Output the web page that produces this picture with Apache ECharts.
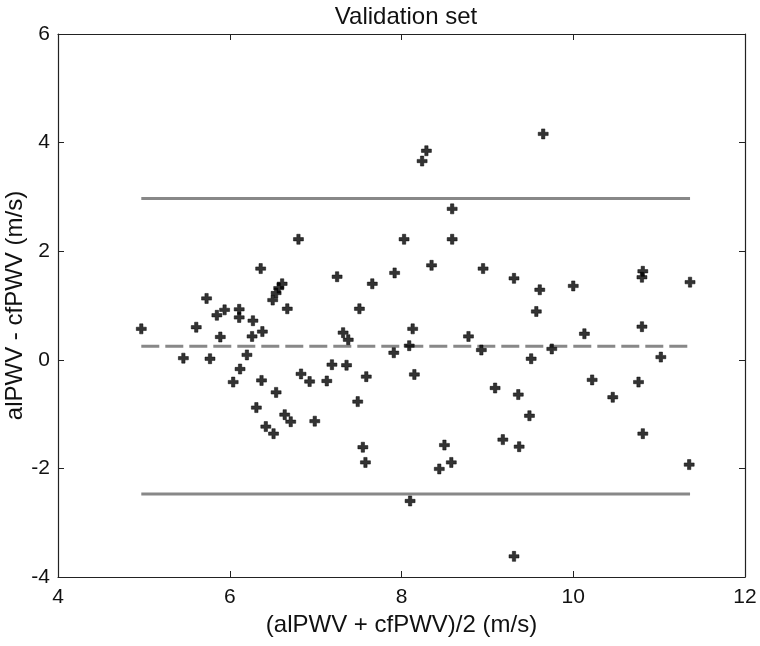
<!DOCTYPE html>
<html>
<head>
<meta charset="utf-8">
<script src="https://cdn.jsdelivr.net/npm/echarts@6/dist/echarts.min.js"></script>
<style>
  html, body { margin: 0; padding: 0; background: #fff; }
  #chart { width: 760px; height: 646px; }
</style>
</head>
<body>
<div id="chart"></div>
<script>
// mean of the two methods (m/s)
var meanPWV = [
  4.97, 5.46, 5.61, 5.73, 5.77, 5.85, 5.89, 5.94, 6.04, 6.11,
  6.11, 6.12, 6.20, 6.26, 6.27, 6.31, 6.36, 6.37, 6.38, 6.42,
  6.50, 6.51, 6.54, 6.54, 6.57, 6.61, 6.64, 6.67, 6.71, 6.80,
  6.83, 6.93, 6.99, 7.13, 7.19, 7.25, 7.32, 7.36, 7.38, 7.49,
  7.51, 7.55, 7.58, 7.59, 7.66, 7.91, 7.92, 8.03, 8.09, 8.10,
  8.13, 8.15, 8.24, 8.29, 8.35, 8.44, 8.50, 8.58, 8.59, 8.59,
  8.78, 8.93, 8.95, 9.09, 9.18, 9.31, 9.31, 9.36, 9.37, 9.49,
  9.51, 9.57, 9.61, 9.65, 9.75, 10.00, 10.13, 10.22, 10.46, 10.76,
  10.80, 10.80, 10.81, 10.81, 11.02, 11.35, 11.36
];
// difference alPWV - cfPWV (m/s)
var diffPWV = [
  0.57, 0.03, 0.60, 1.13, 0.02, 0.82, 0.42, 0.92, -0.41, 0.93,
  0.78, -0.17, 0.09, 0.43, 0.72, -0.88, 1.68, -0.38, 0.52, -1.23,
  1.10, -1.36, 1.23, -0.60, 1.32, 1.40, -1.01, 0.94, -1.14, 2.22,
  -0.26, -0.40, -1.13, -0.39, -0.09, 1.53, 0.50, -0.10, 0.37, -0.77,
  0.94, -1.61, -1.89, -0.31, 1.40, 0.13, 1.60, 2.22, 0.26, -2.60,
  0.57, -0.27, 3.66, 3.85, 1.74, -2.01, -1.57, -1.89, 2.78, 2.22,
  0.43, 0.18, 1.68, -0.52, -1.47, 1.50, -3.62, -0.64, -1.60, -1.03,
  0.02, 0.89, 1.29, 4.16, 0.20, 1.36, 0.48, -0.37, -0.69, -0.41,
  0.61, 1.52, 1.63, -1.36, 0.05, -1.93, 1.43
];
var lineSpan = [4.97, 11.36];
var meanDiff = 0.25;
var upperLimit = 2.97;
var lowerLimit = -2.47;
var xTicks = [4, 6, 8, 10, 12];
var yTicks = [-4, -2, 0, 2, 4, 6];

var points = meanPWV.map(function (x, i) { return [x, diffPWV[i]]; });
function hline(y) { return lineSpan.map(function (x) { return [x, y]; }); }

var font = 'Liberation Sans, Arial, sans-serif';
var axisCol = '#222';

function xAxisCfg(pos, showLabel) {
  return {
    type: 'value', position: pos, min: xTicks[0], max: xTicks[xTicks.length - 1], interval: 2,
    axisLine: { show: true, onZero: false, lineStyle: { color: axisCol, width: 1.2 } },
    axisTick: { show: true, inside: true, length: 6, lineStyle: { color: axisCol } },
    axisLabel: { show: showLabel, color: '#111', fontSize: 21, fontFamily: font, margin: 10 },
    splitLine: { show: false },
    name: showLabel ? '(alPWV + cfPWV)/2 (m/s)' : '',
    nameLocation: 'middle', nameGap: 36, nameMoveOverlap: false,
    nameTextStyle: { color: '#111', fontSize: 24, fontFamily: font }
  };
}
function yAxisCfg(pos, showLabel) {
  return {
    type: 'value', position: pos, min: yTicks[0], max: yTicks[yTicks.length - 1], interval: 2,
    axisLine: { show: true, onZero: false, lineStyle: { color: axisCol, width: 1.2 } },
    axisTick: { show: true, inside: true, length: 6, lineStyle: { color: axisCol } },
    axisLabel: { show: showLabel, color: '#111', fontSize: 21, fontFamily: font, margin: 8 },
    splitLine: { show: false },
    name: showLabel ? 'alPWV - cfPWV (m/s)' : '',
    nameLocation: 'middle', nameGap: 31, nameMoveOverlap: false,
    nameTextStyle: { color: '#111', fontSize: 24, fontFamily: font }
  };
}

var chart = echarts.init(document.getElementById('chart'));
chart.setOption({
  animation: false,
  backgroundColor: '#fff',
  title: {
    text: 'Validation set', left: 401, top: 0, textAlign: 'center',
    textStyle: { color: '#111', fontSize: 24, fontWeight: 'normal', fontFamily: font }
  },
  grid: { left: 58, right: 15, top: 34, bottom: 69, containLabel: false, outerBoundsMode: 'none' },
  xAxis: [xAxisCfg('bottom', true), xAxisCfg('top', false)],
  yAxis: [yAxisCfg('left', true), yAxisCfg('right', false)],
  series: [
    {
      type: 'line', data: hline(upperLimit), symbol: 'none', silent: true,
      lineStyle: { color: '#888', width: 3 }
    },
    {
      type: 'line', data: hline(lowerLimit), symbol: 'none', silent: true,
      lineStyle: { color: '#888', width: 3 }
    },
    {
      type: 'line', data: hline(meanDiff), symbol: 'none', silent: true,
      lineStyle: { color: '#888', width: 3, type: [18, 6] }
    },
    {
      type: 'scatter', data: points, z: 5,
      symbol: 'path://M3,0h3v3h3v3h-3v3h-3v-3h-3v-3h3z',
      symbolSize: 10,
      itemStyle: { color: '#000', borderColor: '#000', borderWidth: 0.6 }
    }
  ]
});
</script>
</body>
</html>
